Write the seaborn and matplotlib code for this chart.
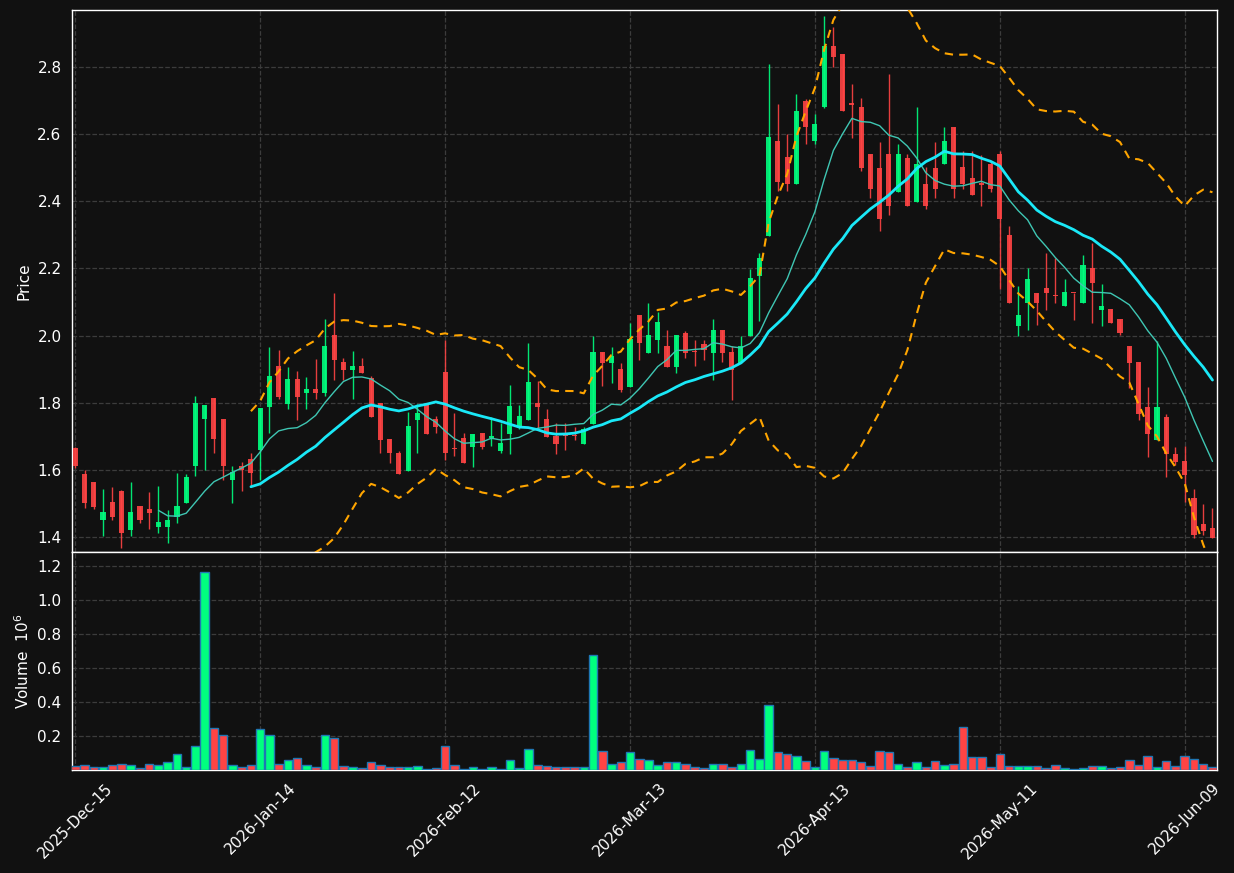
import numpy as np
import pandas as pd
import matplotlib
matplotlib.use("Agg")
import matplotlib.pyplot as plt
import seaborn as sns

# ---- data (price, volume in millions) ----
opens = [1.666, 1.587, 1.563, 1.452, 1.504, 1.537, 1.422, 1.492, 1.483, 1.430,
         1.430, 1.460, 1.502, 1.612, 1.751, 1.813, 1.753, 1.570, 1.613, 1.631,
         1.659, 1.788, 1.909, 1.797, 1.870, 1.830, 1.841, 1.830, 2.001, 1.921,
         1.897, 1.909, 1.874, 1.798, 1.691, 1.650, 1.598, 1.750, 1.797, 1.752,
         1.891, 1.663, 1.695, 1.669, 1.710, 1.695, 1.657, 1.708, 1.730, 1.749,
         1.799, 1.751, 1.701, 1.702, 1.703, 1.678, 1.738, 1.950, 1.919, 1.900,
         1.848, 2.060, 1.949, 1.987, 1.968, 1.906, 2.009, 1.952, 1.975, 1.948,
         2.018, 1.950, 1.918, 2.000, 2.177, 2.298, 2.581, 2.531, 2.451, 2.700,
         2.579, 2.682, 2.862, 2.840, 2.690, 2.682, 2.540, 2.499, 2.540, 2.429,
         2.528, 2.399, 2.451, 2.499, 2.510, 2.622, 2.502, 2.469, 2.452, 2.510,
         2.540, 2.300, 2.028, 2.098, 2.126, 2.141, 2.120, 2.087, 2.128, 2.097,
         2.200, 2.077, 2.078, 2.048, 1.968, 1.920, 1.787, 1.689, 1.758, 1.647,
         1.626, 1.517, 1.438, 1.427]
highs = [1.668, 1.601, 1.565, 1.542, 1.550, 1.539, 1.563, 1.493, 1.533, 1.553,
         1.480, 1.592, 1.589, 1.821, 1.792, 1.813, 1.753, 1.613, 1.622, 1.651,
         1.783, 1.967, 1.958, 1.907, 1.894, 1.877, 1.929, 2.048, 2.128, 1.934,
         1.953, 1.934, 1.879, 1.798, 1.691, 1.656, 1.773, 1.797, 1.797, 1.760,
         1.988, 1.768, 1.709, 1.707, 1.710, 1.758, 1.741, 1.854, 1.793, 1.979,
         1.864, 1.782, 1.739, 1.739, 1.729, 1.729, 1.999, 1.950, 1.967, 1.919,
         2.038, 2.060, 2.098, 2.070, 2.018, 2.001, 2.013, 1.988, 1.988, 2.048,
         2.018, 1.968, 2.000, 2.199, 2.247, 2.810, 2.690, 2.601, 2.720, 2.705,
         2.660, 2.951, 2.919, 2.840, 2.749, 2.709, 2.540, 2.578, 2.780, 2.572,
         2.540, 2.680, 2.502, 2.578, 2.623, 2.622, 2.550, 2.550, 2.538, 2.520,
         2.550, 2.328, 2.149, 2.200, 2.126, 2.247, 2.230, 2.170, 2.128, 2.239,
         2.275, 2.155, 2.078, 2.048, 1.968, 1.920, 1.848, 1.983, 1.766, 1.669,
         1.671, 1.544, 1.497, 1.485]
lows = [1.606, 1.487, 1.482, 1.402, 1.452, 1.366, 1.402, 1.443, 1.423, 1.413,
        1.381, 1.443, 1.502, 1.582, 1.601, 1.651, 1.571, 1.502, 1.538, 1.551,
        1.571, 1.709, 1.810, 1.780, 1.750, 1.780, 1.812, 1.820, 1.869, 1.869,
        1.810, 1.889, 1.758, 1.650, 1.619, 1.589, 1.598, 1.650, 1.707, 1.709,
        1.629, 1.640, 1.619, 1.610, 1.663, 1.671, 1.651, 1.648, 1.721, 1.749,
        1.726, 1.699, 1.648, 1.658, 1.690, 1.678, 1.738, 1.851, 1.860, 1.831,
        1.848, 1.928, 1.949, 1.949, 1.906, 1.890, 1.933, 1.910, 1.928, 1.869,
        1.920, 1.809, 1.918, 2.000, 2.045, 2.298, 2.431, 2.431, 2.451, 2.571,
        2.571, 2.678, 2.800, 2.668, 2.590, 2.491, 2.409, 2.311, 2.359, 2.429,
        2.387, 2.399, 2.378, 2.409, 2.510, 2.409, 2.438, 2.419, 2.387, 2.429,
        2.139, 2.098, 1.998, 2.018, 2.033, 2.077, 2.097, 2.087, 2.047, 2.097,
        2.037, 2.029, 2.037, 2.001, 1.845, 1.749, 1.639, 1.689, 1.579, 1.614,
        1.505, 1.397, 1.407, 1.397]
closes = [1.612, 1.502, 1.490, 1.474, 1.460, 1.413, 1.474, 1.451, 1.472, 1.445,
          1.450, 1.492, 1.578, 1.800, 1.792, 1.692, 1.612, 1.593, 1.601, 1.591,
          1.783, 1.879, 1.818, 1.870, 1.818, 1.841, 1.830, 1.968, 1.928, 1.897,
          1.909, 1.889, 1.758, 1.689, 1.649, 1.589, 1.731, 1.768, 1.707, 1.729,
          1.649, 1.661, 1.621, 1.707, 1.669, 1.701, 1.680, 1.790, 1.760, 1.861,
          1.788, 1.699, 1.678, 1.700, 1.701, 1.723, 1.950, 1.919, 1.938, 1.839,
          1.989, 1.978, 2.001, 2.040, 1.906, 2.001, 1.948, 1.950, 1.957, 2.018,
          1.948, 1.898, 1.968, 2.171, 2.230, 2.593, 2.459, 2.451, 2.670, 2.621,
          2.630, 2.862, 2.830, 2.668, 2.688, 2.498, 2.438, 2.348, 2.387, 2.540,
          2.387, 2.510, 2.387, 2.438, 2.579, 2.438, 2.451, 2.419, 2.450, 2.438,
          2.348, 2.098, 2.060, 2.170, 2.098, 2.127, 2.118, 2.129, 2.126, 2.210,
          2.157, 2.089, 2.037, 2.008, 1.918, 1.766, 1.706, 1.787, 1.646, 1.622,
          1.586, 1.407, 1.417, 1.397]
volume_m = [0.022, 0.032, 0.015, 0.015, 0.032, 0.038, 0.032, 0.009, 0.038, 0.032,
            0.048, 0.091, 0.020, 0.139, 1.163, 0.245, 0.204, 0.032, 0.020, 0.032,
            0.239, 0.204, 0.038, 0.056, 0.068, 0.032, 0.015, 0.204, 0.186, 0.026,
            0.020, 0.009, 0.044, 0.032, 0.015, 0.020, 0.020, 0.026, 0.003, 0.009,
            0.139, 0.032, 0.003, 0.020, 0.003, 0.015, 0.003, 0.056, 0.009, 0.121,
            0.032, 0.026, 0.020, 0.015, 0.015, 0.020, 0.678, 0.110, 0.038, 0.044,
            0.104, 0.062, 0.056, 0.032, 0.044, 0.044, 0.038, 0.020, 0.009, 0.038,
            0.038, 0.020, 0.038, 0.115, 0.062, 0.381, 0.104, 0.091, 0.085, 0.050,
            0.015, 0.110, 0.068, 0.056, 0.056, 0.044, 0.026, 0.110, 0.104, 0.038,
            0.015, 0.044, 0.020, 0.050, 0.032, 0.038, 0.251, 0.074, 0.074, 0.015,
            0.091, 0.026, 0.026, 0.026, 0.026, 0.009, 0.032, 0.009, 0.003, 0.009,
            0.026, 0.026, 0.009, 0.020, 0.056, 0.032, 0.080, 0.015, 0.050, 0.026,
            0.080, 0.062, 0.038, 0.020]
tick_idx = [0, 20, 40, 60, 80, 100, 120]
tick_labels = ['2025-Dec-15', '2026-Jan-14', '2026-Feb-12', '2026-Mar-13',
               '2026-Apr-13', '2026-May-11', '2026-Jun-09']

df = pd.DataFrame({'Open': opens, 'High': highs, 'Low': lows,
                   'Close': closes, 'Volume': volume_m})
df['i'] = np.arange(len(df))
df['dir'] = np.where(df['Close'] >= df['Open'], 'up', 'down')
df['ma10'] = df['Close'].rolling(10).mean()
df['ma20'] = df['Close'].rolling(20).mean()
sd = df['Close'].rolling(20).std()
df['bb_up'] = df['ma20'] + 2 * sd
df['bb_lo'] = df['ma20'] - 2 * sd

BG = '#111111'
UP, DOWN = '#00ff7f', '#ff4444'
sns.set_theme(style='darkgrid', rc={
    'figure.facecolor': BG, 'axes.facecolor': BG, 'axes.edgecolor': 'white',
    'grid.color': '#3c3c3c', 'grid.linestyle': '--', 'grid.linewidth': 0.9,
    'text.color': 'white', 'axes.labelcolor': 'white',
    'xtick.color': 'white', 'ytick.color': 'white'})
plt.rcParams['font.family'] = ['DejaVu Sans']

fig = plt.figure(figsize=(12.34, 8.73), dpi=100)
ax = fig.add_axes([0.0583, 0.3677, 0.928, 0.6208])
axv = fig.add_axes([0.0583, 0.118, 0.928, 0.2497], sharex=ax)

# candles
cols = np.where(df['dir'] == 'up', UP, DOWN)
ax.vlines(df['i'], df['Low'], df['High'], colors=cols, linewidth=1.0, alpha=0.9, zorder=3)
body_lo = np.minimum(df['Open'], df['Close'])
body_h = np.maximum(np.abs(df['Close'] - df['Open']), 0.004)
ax.bar(df['i'], body_h, bottom=body_lo, width=0.55, color=cols, alpha=0.9,
       linewidth=0, zorder=4)

# moving averages and bands
sns.lineplot(data=df, x='i', y='ma10', ax=ax, color='#3fc6b3', linewidth=1.0, zorder=5)
sns.lineplot(data=df, x='i', y='ma20', ax=ax, color='#1ae8f7', linewidth=2.0, zorder=5)
for c in ['bb_up', 'bb_lo']:
    sns.lineplot(data=df, x='i', y=c, ax=ax, color='orange', linewidth=1.5,
                 zorder=5).lines[-1].set_dashes([4, 3])

ax.set_ylim(1.3553, 2.970)
ax.set_yticks([1.4, 1.6, 1.8, 2.0, 2.2, 2.4, 2.6, 2.8])
ax.set_ylabel('Price', fontsize=11)
ax.set_xlabel('')
ax.tick_params(axis='x', labelbottom=False, length=0)
ax.tick_params(axis='y', labelsize=11, length=4, width=1)

# volume
sns.barplot(data=df, x='i', y='Volume', hue='dir', palette={'up': UP, 'down': DOWN},
            native_scale=True, dodge=False, width=0.92, errorbar=None, legend=False,
            saturation=1, edgecolor='#1f77b4', linewidth=1.0, ax=axv, zorder=3)
axv.set_ylim(0, 1.28)
axv.set_yticks([0.2, 0.4, 0.6, 0.8, 1.0, 1.2])
axv.set_ylabel('Volume  $10^{6}$', fontsize=11)
axv.set_xlabel('')
axv.set_xlim(-0.36, 123.5)
axv.set_xticks(tick_idx)
axv.set_xticklabels(tick_labels, rotation=45, ha='center', fontsize=11)
axv.tick_params(axis='both', labelsize=11, length=4, width=1)

for a in (ax, axv):
    a.grid(True, which='major', axis='both')
    for s in a.spines.values():
        s.set_color('white')
        s.set_linewidth(1.0)

fig.savefig('out.png', dpi=100, facecolor=BG)
